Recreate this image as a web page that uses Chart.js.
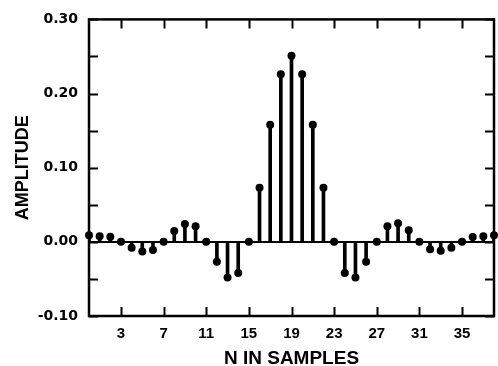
<!DOCTYPE html>
<html>
<head>
<meta charset="utf-8">
<script src="https://cdn.jsdelivr.net/npm/chart.js@4"></script>
<style>
  html, body { margin: 0; padding: 0; background: #fff; }
  #wrap { width: 498px; height: 366px; }
</style>
</head>
<body>
<div id="wrap"><canvas id="stemChart"></canvas></div>
<script>
// sample index n and impulse response amplitude h[n]
const samples = [0, 1, 2, 3, 4, 5, 6, 7, 8, 9, 10, 11, 12, 13, 14, 15, 16, 17, 18, 19,
                 20, 21, 22, 23, 24, 25, 26, 27, 28, 29, 30, 31, 32, 33, 34, 35, 36, 37, 38];
const amplitude = [0.009, 0.0076, 0.007, 0.0, -0.008, -0.013, -0.011, 0.0, 0.0146, 0.024,
                   0.021, 0.0, -0.027, -0.048, -0.042, 0.0, 0.073, 0.158, 0.226, 0.251,
                   0.226, 0.158, 0.073, 0.0, -0.042, -0.048, -0.027, 0.0, 0.021, 0.025,
                   0.0155, 0.0, -0.010, -0.012, -0.008, 0.0, 0.0067, 0.0075, 0.009];
const xTicks = [3, 7, 11, 15, 19, 23, 27, 31, 35];
const yTicks = [-0.10, -0.05, 0.00, 0.05, 0.10, 0.15, 0.20, 0.25, 0.30];

const points = samples.map((n, i) => ({ x: n, y: amplitude[i] }));

// box around the plot with inward ticks on all four sides
const frame = {
  id: 'frame',
  afterDraw(chart) {
    const { ctx, chartArea: a, scales } = chart;
    const len = 9;
    ctx.save();
    ctx.strokeStyle = '#000';
    ctx.lineWidth = 2;
    xTicks.forEach(v => {
      const px = Math.round(scales.x.getPixelForValue(v)) + 0.5;
      ctx.beginPath();
      ctx.moveTo(px, a.bottom); ctx.lineTo(px, a.bottom - len);
      ctx.moveTo(px, a.top); ctx.lineTo(px, a.top + len);
      ctx.stroke();
    });
    yTicks.forEach(v => {
      const py = Math.round(scales.y.getPixelForValue(v)) + 0.5;
      ctx.beginPath();
      ctx.moveTo(a.left, py); ctx.lineTo(a.left + len, py);
      ctx.moveTo(a.right, py); ctx.lineTo(a.right - len, py);
      ctx.stroke();
    });
    ctx.lineWidth = 2.5;
    ctx.strokeRect(a.left, a.top, a.right - a.left, a.bottom - a.top);
    ctx.restore();
  }
};

new Chart(document.getElementById('stemChart'), {
  type: 'bar',
  data: {
    datasets: [
      {
        type: 'line',
        data: points,
        showLine: false,
        pointRadius: 4,
        pointBackgroundColor: '#000',
        pointBorderWidth: 0,
        clip: false,
        order: 0
      },
      {
        type: 'bar',
        data: points,
        backgroundColor: '#000',
        barThickness: 3,
        order: 1
      }
    ]
  },
  options: {
    responsive: true,
    maintainAspectRatio: false,
    animation: false,
    layout: { padding: { top: 15, right: 1, left: 0, bottom: 0 } },
    plugins: { legend: { display: false }, tooltip: { enabled: false } },
    scales: {
      x: {
        type: 'linear',
        offset: false,
        min: 0,
        max: 38,
        afterBuildTicks: s => { s.ticks = xTicks.map(v => ({ value: v })); },
        afterFit: s => { s.height = 50; },
        grid: { display: false },
        border: { display: false },
        ticks: {
          autoSkip: false,
          maxRotation: 0,
          padding: 1,
          color: '#000',
          font: { family: 'Liberation Sans, Arial, sans-serif', size: 15, weight: 'bold' }
        },
        title: {
          display: true,
          text: 'N IN SAMPLES',
          color: '#000',
          padding: { top: 4, bottom: -4 },
          font: { family: 'Liberation Sans, Arial, sans-serif', size: 19, weight: 'bold' }
        }
      },
      y: {
        min: -0.1,
        max: 0.3,
        afterBuildTicks: s => { s.ticks = yTicks.map(v => ({ value: v })); },
        afterFit: s => { s.width = 89; },
        border: { display: false },
        grid: {
          drawTicks: false,
          lineWidth: 2,
          color: c => (c.tick && Math.abs(c.tick.value) < 1e-9 ? '#000' : 'rgba(0,0,0,0)')
        },
        ticks: {
          padding: 11,
          color: '#000',
          font: { family: 'DejaVu Sans, sans-serif', size: 14, weight: 'bold' },
          callback: v => (Math.round(v * 20) % 2 === 0 ? v.toFixed(2) : '')
        },
        title: {
          display: true,
          text: 'AMPLITUDE',
          color: '#000',
          padding: { top: 12, bottom: 0 },
          font: { family: 'Liberation Sans, Arial, sans-serif', size: 18, weight: 'bold' }
        }
      }
    }
  },
  plugins: [frame]
});
</script>
</body>
</html>
